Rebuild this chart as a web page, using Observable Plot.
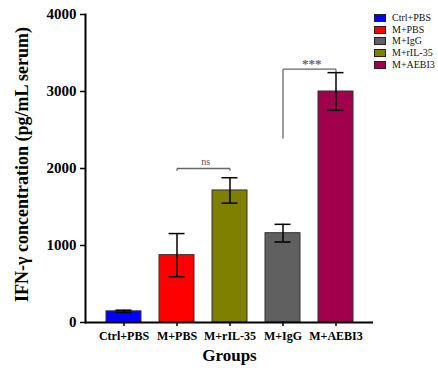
<!DOCTYPE html>
<html>
<head>
<meta charset="utf-8">
<script src="https://cdn.jsdelivr.net/npm/d3@7"></script>
<script src="https://cdn.jsdelivr.net/npm/@observablehq/plot@0.6"></script>
<style>
  body { margin: 0; background: #fff; }
  #wrap { position: relative; width: 438px; height: 374px; font-family: "Liberation Serif", "Times New Roman", serif; }
  #legend { position: absolute; left: 374px; top: 12px; font-size: 10px; line-height: 11.7px; color: #111; }
  #legend .row { display: flex; align-items: center; height: 11.7px; }
  #legend .sw { width: 12px; height: 8px; border: 1px solid #222; box-sizing: border-box; margin-right: 6px; }
</style>
</head>
<body>
<div id="wrap"></div>
<script>
const groups = ["Ctrl+PBS", "M+PBS", "M+rIL-35", "M+IgG", "M+AEBI3"];
const means = [145, 875, 1715, 1160, 3000];
const errors = [15, 280, 165, 115, 245];
const colors = ["#0000FF", "#FF0000", "#808000", "#606060", "#A0004C"];
const legendOrder = ["Ctrl+PBS", "M+PBS", "M+IgG", "M+rIL-35", "M+AEBI3"];
const yTicks = [0, 1000, 2000, 3000, 4000];
const yLabel = "IFN-γ concentration (pg/mL serum)";
const xLabel = "Groups";

// significance brackets: from group, to group, bar height, drop ends, label
const brackets = [
  {from: "M+PBS", to: "M+rIL-35", y: 2000, yFrom: 1970, yTo: 1970, label: "ns"},
  {from: "M+IgG", to: "M+AEBI3", y: 3290, yFrom: 2390, yTo: 3250, label: "***"}
];

const data = groups.map((g, i) => ({group: g, mean: means[i], lo: means[i] - errors[i], hi: means[i] + errors[i], color: colors[i]}));

const bracketLines = brackets.flatMap(b => [
  {x1: b.from, x2: b.to, y1: b.y, y2: b.y},
  {x1: b.from, x2: b.from, y1: b.y, y2: b.yFrom},
  {x1: b.to, x2: b.to, y1: b.y, y2: b.yTo}
]);

const serif = "Liberation Serif, Times New Roman, serif";

const chart = Plot.plot({
  width: 438,
  height: 374,
  marginLeft: 85,
  marginRight: 65,
  marginTop: 14,
  marginBottom: 52,
  style: {fontFamily: serif, background: "#fff", color: "#000"},
  x: {domain: groups, padding: 0.34, label: null},
  y: {domain: [0, 4000], label: null},
  marks: [
    Plot.barY(data, {x: "group", y: "mean", fill: "color", stroke: "#333", strokeWidth: 1}),
    Plot.ruleX(data, {x: "group", y1: "lo", y2: "hi", stroke: "#000", strokeWidth: 1.5}),
    Plot.tickY(data, {x: "group", y: "hi", stroke: "#000", strokeWidth: 1.5, insetLeft: 9.5, insetRight: 9.5}),
    Plot.tickY(data, {x: "group", y: "lo", stroke: "#000", strokeWidth: 1.5, insetLeft: 9.5, insetRight: 9.5}),
    Plot.link(bracketLines, {x1: "x1", x2: "x2", y1: "y1", y2: "y2", stroke: "#666", strokeWidth: 1.3}),
    Plot.text(brackets.filter(b => b.label === "ns"), {x: "from", y: "y", text: "label", dx: 28.8, dy: -7,
      fill: "#555", fontSize: 10}),
    Plot.text(brackets.filter(b => b.label !== "ns"), {x: "from", y: "y", text: "label", dx: 28.8, dy: -5,
      fill: "#666", fontSize: 13, fontWeight: "bold"}),
    Plot.ruleY([0], {stroke: "#000", strokeWidth: 2}),
    Plot.frame({anchor: "left", stroke: "#000", strokeWidth: 2}),
    Plot.axisY({ticks: yTicks, tickFormat: "d", tickSize: 5, tickPadding: 4, fontSize: 15, fontWeight: "bold", strokeWidth: 1.5, label: null}),
    Plot.axisX({tickSize: 4, tickPadding: 5, fontSize: 12, fontWeight: "bold", strokeWidth: 1.5, label: null}),
    Plot.text([yLabel], {frameAnchor: "left", textAnchor: "middle", lineAnchor: "middle", rotate: -90, dx: -63, dy: -4, fontSize: 18, fontWeight: "bold", fill: "#000"}),
    Plot.text([xLabel], {frameAnchor: "bottom", lineAnchor: "middle", dy: 33, fontSize: 17, fontWeight: "bold", fill: "#000"})
  ]
});

const wrap = document.getElementById("wrap");
wrap.appendChild(chart);

const legend = document.createElement("div");
legend.id = "legend";
legendOrder.forEach(g => {
  const row = document.createElement("div");
  row.className = "row";
  const sw = document.createElement("span");
  sw.className = "sw";
  sw.style.background = colors[groups.indexOf(g)];
  const lab = document.createElement("span");
  lab.textContent = g;
  row.appendChild(sw);
  row.appendChild(lab);
  legend.appendChild(row);
});
wrap.appendChild(legend);
</script>
</body>
</html>
